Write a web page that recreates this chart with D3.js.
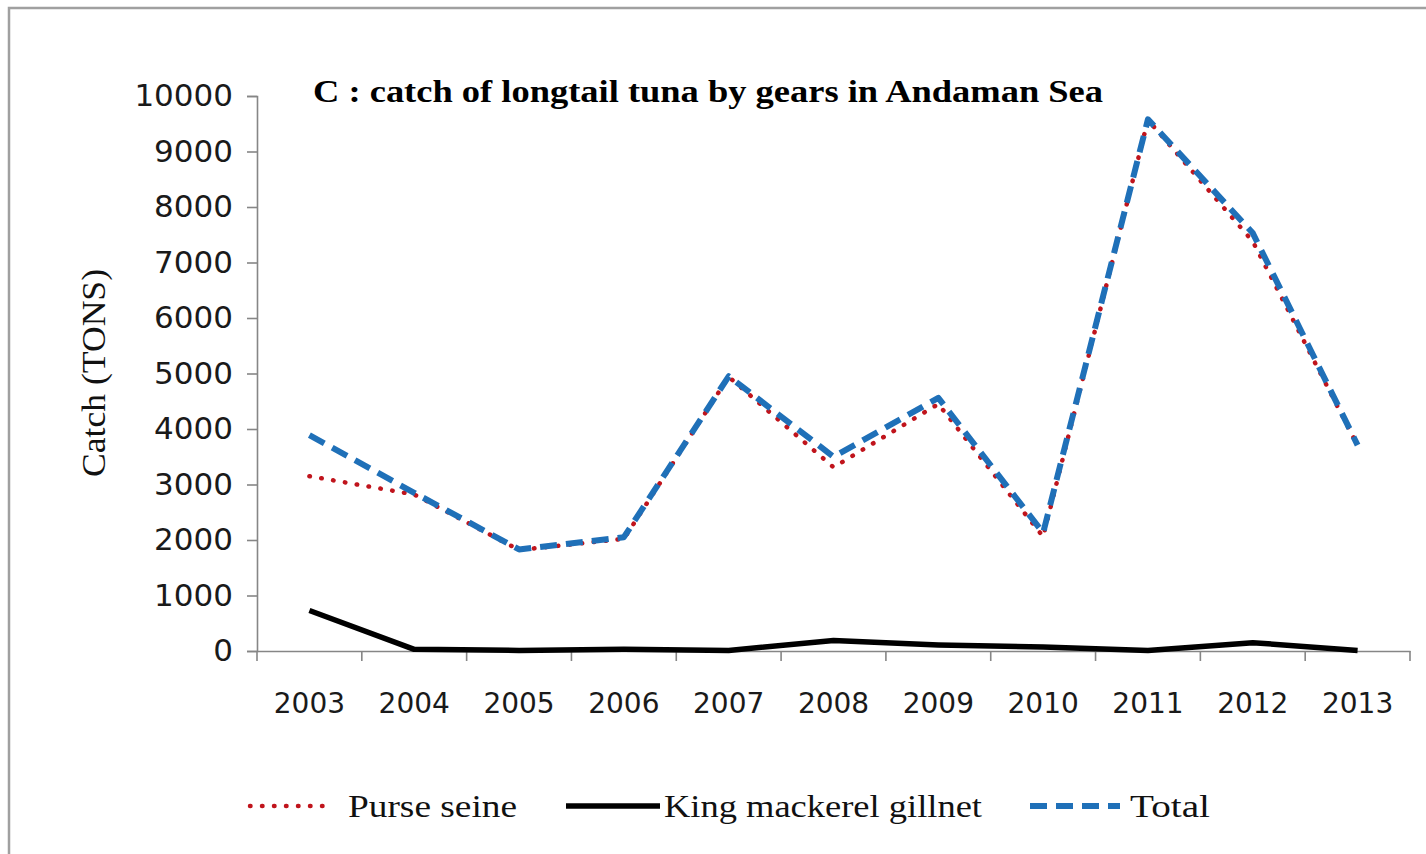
<!DOCTYPE html>
<html>
<head>
<meta charset="utf-8">
<script src="https://cdn.jsdelivr.net/npm/d3@7/dist/d3.min.js"></script>
<style>
  body { margin: 0; background: #fff; }
  svg { display: block; }
</style>
</head>
<body>
<div id="chart"></div>
<script>
// data (tons)
var years = ["2003", "2004", "2005", "2006", "2007", "2008", "2009", "2010", "2011", "2012", "2013"];
var purseSeine = [3150, 2820, 1820, 2020, 4940, 3310, 4450, 2060, 9570, 7380, 3700];
var kingMackerel = [730, 30, 10, 30, 10, 190, 110, 70, 10, 150, 10];
var total = [3890, 2850, 1830, 2050, 4950, 3500, 4560, 2130, 9580, 7530, 3710];
var yTicks = [0, 1000, 2000, 3000, 4000, 5000, 6000, 7000, 8000, 9000, 10000];

var width = 1426;
var height = 854;
var margin = {top: 96, right: 16, bottom: 203, left: 257};

var svg = d3.select("#chart")
    .append("svg")
    .attr("width", width)
    .attr("height", height);

// outer frame (runs off right / bottom edge like the original screenshot)
svg.append("rect")
    .attr("x", 9)
    .attr("y", 8)
    .attr("width", width + 10)
    .attr("height", height + 10)
    .attr("fill", "none")
    .attr("stroke", "#a0a0a0")
    .attr("stroke-width", 2.5);

var x = d3.scaleBand()
    .domain(years)
    .range([margin.left, width - margin.right])
    .padding(0);

var y = d3.scaleLinear()
    .domain([0, 10000])
    .range([height - margin.bottom, margin.top]);

var axisColor = "#868686";

// y axis
var yAxis = svg.append("g")
    .attr("transform", "translate(" + margin.left + ",0)")
    .call(d3.axisLeft(y).tickValues(yTicks).tickSize(10).tickPadding(14).tickFormat(d3.format("d")));

// x axis, ticks sit between categories
var xAxis = svg.append("g")
    .attr("transform", "translate(0," + y(0) + ")")
    .call(d3.axisBottom(x).tickSize(0).tickPadding(42));

var xTickPos = years.map(function(d) { return x(d); });
xTickPos.push(x(years[years.length - 1]) + x.bandwidth());
xAxis.selectAll(".sep")
    .data(xTickPos)
  .enter().append("line")
    .attr("class", "sep")
    .attr("x1", function(d) { return d; })
    .attr("x2", function(d) { return d; })
    .attr("y1", 0)
    .attr("y2", 10);

[yAxis, xAxis].forEach(function(g) {
  g.select(".domain").attr("stroke", axisColor).attr("stroke-width", 1.6);
  g.selectAll("line").attr("stroke", axisColor).attr("stroke-width", 1.6);
  g.selectAll("text")
      .attr("fill", "#1a1a1a")
      .style("font-family", "'DejaVu Sans', Verdana, sans-serif");
});
yAxis.selectAll("text").style("font-size", "31px");
xAxis.selectAll("text").style("font-size", "28px");

// series
var line = d3.line()
    .x(function(d, i) { return x(years[i]) + x.bandwidth() / 2; })
    .y(function(d) { return y(d); });

var series = [
  {name: "Purse seine", values: purseSeine, color: "#c0141c", width: 4.5, dash: "0.5 11.5", cap: "round"},
  {name: "King mackerel gillnet", values: kingMackerel, color: "#000000", width: 5.5, dash: null, cap: "butt"},
  {name: "Total", values: total, color: "#1f70b8", width: 6, dash: "17 9", cap: "butt"}
];

svg.selectAll(".series")
    .data(series)
  .enter().append("path")
    .attr("class", "series")
    .attr("d", function(d) { return line(d.values); })
    .attr("fill", "none")
    .attr("stroke", function(d) { return d.color; })
    .attr("stroke-width", function(d) { return d.width; })
    .attr("stroke-dasharray", function(d) { return d.dash; })
    .attr("stroke-linejoin", "round")
    .attr("stroke-linecap", function(d) { return d.cap; });

// title
svg.append("text")
    .attr("x", 313)
    .attr("y", 102)
    .attr("textLength", 790)
    .attr("lengthAdjust", "spacingAndGlyphs")
    .style("font-family", "'Liberation Serif', 'Times New Roman', serif")
    .style("font-weight", "bold")
    .style("font-size", "32px")
    .attr("fill", "#000")
    .text("C : catch of longtail tuna by gears in Andaman Sea");

// y axis title
svg.append("text")
    .attr("transform", "translate(105," + 373 + ")rotate(-90)")
    .attr("text-anchor", "middle")
    .attr("textLength", 208)
    .attr("lengthAdjust", "spacingAndGlyphs")
    .style("font-family", "'Liberation Serif', 'Times New Roman', serif")
    .style("font-size", "33px")
    .attr("fill", "#111")
    .text("Catch (TONS)");

// legend
var legendItems = [
  {s: series[0], x1: 250, x2: 334, tx: 348, tl: 169},
  {s: series[1], x1: 566, x2: 660, tx: 664, tl: 318},
  {s: series[2], x1: 1030, x2: 1120, tx: 1130, tl: 80}
];
var legendY = 806;

var leg = svg.selectAll(".legend")
    .data(legendItems)
  .enter().append("g")
    .attr("class", "legend");

leg.append("line")
    .attr("x1", function(d) { return d.x1; })
    .attr("x2", function(d) { return d.x2; })
    .attr("y1", legendY)
    .attr("y2", legendY)
    .attr("stroke", function(d) { return d.s.color; })
    .attr("stroke-width", function(d) { return d.s.width; })
    .attr("stroke-dasharray", function(d) { return d.s.dash; })
    .attr("stroke-linecap", function(d) { return d.s.cap; });

leg.append("text")
    .attr("x", function(d) { return d.tx; })
    .attr("y", legendY + 11)
    .attr("textLength", function(d) { return d.tl; })
    .attr("lengthAdjust", "spacingAndGlyphs")
    .style("font-family", "'Liberation Serif', 'Times New Roman', serif")
    .style("font-size", "31px")
    .attr("fill", "#111")
    .text(function(d) { return d.s.name; });
</script>
</body>
</html>
